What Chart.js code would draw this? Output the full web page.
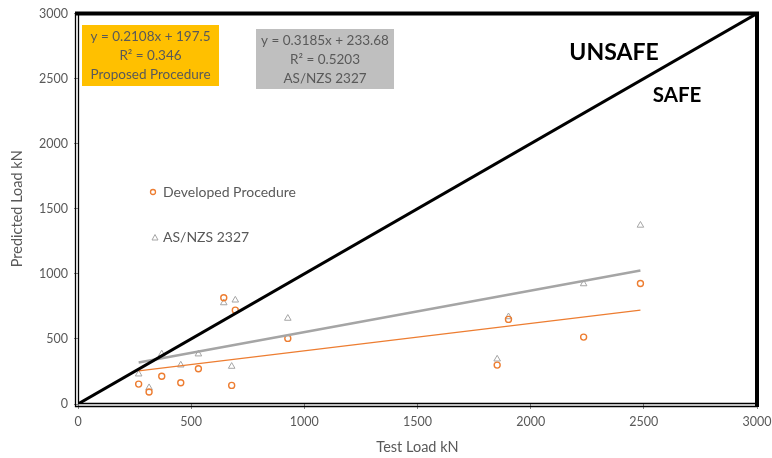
<!DOCTYPE html>
<html>
<head>
<meta charset="utf-8">
<script src="https://cdn.jsdelivr.net/npm/chart.js@4.4.1/dist/chart.umd.min.js"></script>
<style>
  html, body { margin: 0; padding: 0; background: #fff; }
  #wrap { width: 772px; height: 458px; position: relative; }
</style>
</head>
<body>
<div id="wrap"><canvas id="chart"></canvas></div>
<script>
// values
const testLoad = [268, 314, 370, 454, 532, 644, 679, 695, 927, 1852, 1902, 2234, 2485];
const developedPred = [153, 92, 213, 163, 271, 816, 143, 721, 504, 299, 650, 514, 926];
const asnzsPred = [230, 125, 384, 299, 384, 777, 289, 798, 658, 345, 670, 923, 1373];
const safeLine = [0, 3000];
// trendline coefficients as printed on the chart: [slope, intercept]
const trendDeveloped = [0.2108, 197.5];
const trendAsnzs = [0.3185, 233.68];
const axisMax = 3000;
const axisStep = 500;

const ORANGE = '#ED7D31';
const GREY = '#A5A5A5';
const TEXT = '#595959';
const FONT = 'Lato, "Open Sans", sans-serif';

const toPoints = (xs, ys) => xs.map((x, i) => ({ x: x, y: ys[i] }));
const trendPoints = (coef) => {
  const lo = Math.min(...testLoad), hi = Math.max(...testLoad);
  return [lo, hi].map(x => ({ x: x, y: coef[0] * x + coef[1] }));
};

const decorations = {
  id: 'decorations',
  afterDraw(chart) {
    const { ctx, chartArea: a } = chart;
    ctx.save();

    // plot frame: heavy top/right, double line left/bottom
    ctx.strokeStyle = '#000';
    ctx.lineWidth = 4;
    ctx.beginPath();
    ctx.moveTo(a.left - 3, a.top);
    ctx.lineTo(a.right, a.top);
    ctx.lineTo(a.right, a.bottom + 3);
    ctx.stroke();
    ctx.lineWidth = 1.3;
    ctx.beginPath();
    ctx.moveTo(a.left - 2.5, a.top);
    ctx.lineTo(a.left - 2.5, a.bottom + 2.5);
    ctx.lineTo(a.right, a.bottom + 2.5);
    ctx.moveTo(a.left + 0.5, a.top);
    ctx.lineTo(a.left + 0.5, a.bottom - 0.5);
    ctx.lineTo(a.right, a.bottom - 0.5);
    ctx.stroke();

    // equation boxes
    const box = (x, y, w, h, fill, lines) => {
      ctx.fillStyle = fill;
      ctx.fillRect(x, y, w, h);
      ctx.fillStyle = TEXT;
      ctx.font = '13.5px ' + FONT;
      ctx.textAlign = 'center';
      ctx.textBaseline = 'middle';
      lines.forEach((t, i) => ctx.fillText(t, x + w / 2, y + 12 + i * 19));
    };
    box(82, 25, 137, 61, '#FFC000', ['y = 0.2108x + 197.5', 'R\u00B2 = 0.346', 'Proposed Procedure']);
    box(256, 29, 138, 60, '#BFBFBF', ['y = 0.3185x + 233.68', 'R\u00B2 = 0.5203', 'AS/NZS 2327']);

    // zone labels
    ctx.fillStyle = '#000';
    ctx.textAlign = 'center';
    ctx.textBaseline = 'middle';
    ctx.font = 'bold 23px ' + FONT;
    ctx.fillText('UNSAFE', 614, 53);
    ctx.font = 'bold 20.5px ' + FONT;
    ctx.fillText('SAFE', 677, 95);

    // legend inside the plot
    ctx.lineWidth = 1.3;
    ctx.strokeStyle = ORANGE;
    ctx.beginPath();
    ctx.arc(153, 192, 2.5, 0, Math.PI * 2);
    ctx.stroke();
    ctx.strokeStyle = GREY;
    ctx.lineWidth = 1;
    ctx.beginPath();
    ctx.moveTo(152, 240);
    ctx.lineTo(158, 240);
    ctx.lineTo(155, 234.5);
    ctx.closePath();
    ctx.stroke();
    ctx.fillStyle = TEXT;
    ctx.textAlign = 'left';
    ctx.font = '14px ' + FONT;
    ctx.fillText('Developed Procedure', 163, 192);
    ctx.fillText('AS/NZS 2327', 163, 237);

    ctx.restore();
  }
};

new Chart(document.getElementById('chart'), {
  type: 'scatter',
  data: {
    datasets: [
      {
        label: '1:1',
        data: toPoints(safeLine, safeLine),
        showLine: true,
        borderColor: '#000',
        borderWidth: 3,
        pointRadius: 0,
        order: 0
      },
      {
        label: 'Developed Procedure',
        data: toPoints(testLoad, developedPred),
        pointStyle: 'circle',
        pointRadius: 3,
        borderColor: ORANGE,
        backgroundColor: 'rgba(255,255,255,0)',
        pointBorderWidth: 1.4,
        order: 3
      },
      {
        label: 'AS/NZS 2327',
        data: toPoints(testLoad, asnzsPred),
        pointStyle: 'triangle',
        pointRadius: 3.8,
        borderColor: GREY,
        backgroundColor: 'rgba(255,255,255,0)',
        pointBorderWidth: 1,
        order: 4
      },
      {
        label: 'Trend developed',
        data: trendPoints(trendDeveloped),
        showLine: true,
        borderColor: ORANGE,
        borderWidth: 1.2,
        pointRadius: 0,
        order: 2
      },
      {
        label: 'Trend AS/NZS',
        data: trendPoints(trendAsnzs),
        showLine: true,
        borderColor: GREY,
        borderWidth: 2.5,
        pointRadius: 0,
        order: 1
      }
    ]
  },
  options: {
    responsive: true,
    maintainAspectRatio: false,
    animation: false,
    devicePixelRatio: 1,
    layout: { padding: { top: 13, right: 0, left: 0, bottom: 0 } },
    plugins: {
      legend: { display: false },
      tooltip: { enabled: false }
    },
    scales: {
      x: {
        type: 'linear',
        min: 0,
        max: axisMax,
        ticks: { stepSize: axisStep, color: TEXT, font: { family: FONT, size: 12.5 }, padding: 5, maxRotation: 0, callback: v => String(v) },
        grid: { drawOnChartArea: false, drawTicks: true, tickLength: 5, color: '#888' },
        border: { display: false },
        title: { display: true, text: 'Test Load kN', color: TEXT, font: { family: FONT, size: 14.5 }, padding: { top: 0, bottom: 2 } },
        afterFit(scale) { scale.height = 54; scale.paddingRight = 15; scale.paddingLeft = 0; }
      },
      y: {
        type: 'linear',
        min: 0,
        max: axisMax,
        ticks: { stepSize: axisStep, color: TEXT, font: { family: FONT, size: 12.5 }, padding: 6, callback: v => String(v) },
        grid: { drawOnChartArea: false, drawTicks: true, tickLength: 4, color: '#888' },
        border: { display: false },
        title: { display: true, text: 'Predicted Load kN', color: TEXT, font: { family: FONT, size: 14.5 }, padding: { top: 9, bottom: 0 } },
        afterFit(scale) { scale.width = 78; }
      }
    }
  },
  plugins: [decorations]
});
</script>
</body>
</html>
